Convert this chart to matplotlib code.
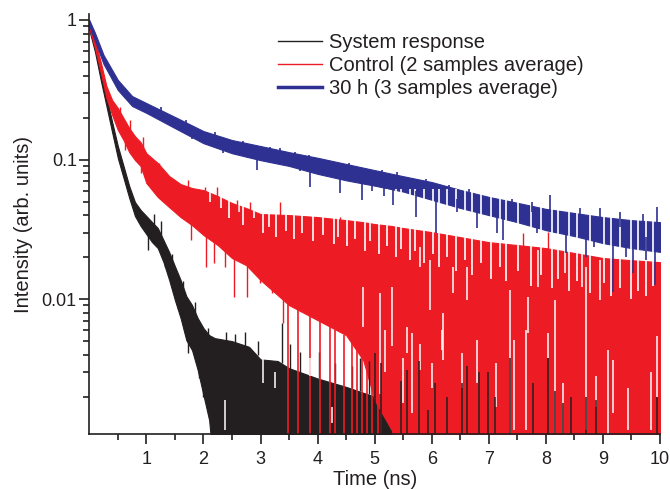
import numpy as np
import matplotlib.pyplot as plt
from matplotlib.lines import Line2D

plt.rcParams['font.family'] = ['Liberation Sans', 'DejaVu Sans']

# Colours of the three traces
c_black = '#231f20'
c_red = '#ed1c24'
c_blue = '#2e3192'
floor = 0.0005  # below the visible axis

# System response: dense band (upper / lower edge)
black_t = [0.0, 0.1, 0.2, 0.3, 0.4, 0.5, 0.6, 0.7, 0.8, 0.9, 1.0, 1.1, 1.2, 1.3, 1.4, 1.5,
           1.6, 1.7, 1.8, 1.9, 2.0, 2.1, 2.2, 2.5, 2.8, 3.0, 3.3, 3.5, 4.0, 4.5, 5.0, 5.5]
black_hi = [0.936, 0.673, 0.438, 0.285, 0.186, 0.125, 0.0898, 0.0645, 0.0496, 0.0435, 0.0394,
            0.0356, 0.0323, 0.0265, 0.0217, 0.0172, 0.0137, 0.0105, 0.00906, 0.00731, 0.0062,
            0.00552, 0.00525, 0.00500, 0.00455, 0.00370, 0.00360, 0.00320, 0.00270, 0.00235,
            0.00200, 0.00170]
black_lo = [0.848, 0.590, 0.372, 0.242, 0.157, 0.1025, 0.0737, 0.053, 0.0394, 0.0334, 0.0292,
            0.0256, 0.0232, 0.0184, 0.0137, 0.00984, 0.00731, 0.00508, 0.00431, 0.0031, 0.00205,
            0.00136, floor, floor, floor, floor, floor, floor, floor, floor, floor, floor]

# Control (2 samples average)
red_t = [0.0, 0.1, 0.2, 0.3, 0.4, 0.5, 0.6, 0.7, 0.8, 0.9, 1.0, 1.2, 1.4, 1.6, 1.8, 2.0, 2.25,
         2.5, 2.75, 3.0, 3.5, 4.0, 4.5, 4.8, 5.0, 5.3, 5.5, 6.0, 6.5, 7.0, 7.5, 8.0, 8.5, 9.0,
         9.5, 10.0]
red_hi = [0.968, 0.719, 0.500, 0.336, 0.267, 0.234, 0.198, 0.168, 0.147, 0.133, 0.111, 0.0944,
          0.0762, 0.0667, 0.0625, 0.0604, 0.0547, 0.0488, 0.0449, 0.0407, 0.0400, 0.0387,
          0.0368, 0.0356, 0.0345, 0.0334, 0.0323, 0.0302, 0.0278, 0.0256, 0.0244, 0.0232,
          0.0214, 0.0197, 0.0190, 0.0184]
red_lo = [0.876, 0.630, 0.424, 0.276, 0.209, 0.163, 0.138, 0.113, 0.0992, 0.0898, 0.0679,
          0.0539, 0.0456, 0.0387, 0.0339, 0.0288, 0.0244, 0.0197, 0.0175, 0.0137, 0.00906,
          0.00707, 0.00552, 0.00365, 0.00189, 0.00115, floor, floor, floor, floor, floor,
          floor, floor, floor, floor, floor]

# 30 h (3 samples average)
blue_t = [0.0, 0.1, 0.25, 0.5, 0.75, 1.0, 1.5, 2.0, 2.5, 3.0, 3.5, 4.0, 4.5, 5.0, 5.5, 6.0,
          6.5, 7.0, 7.5, 8.0, 8.5, 9.0, 9.5, 10.0]
blue_hi = [1.0, 0.807, 0.561, 0.372, 0.285, 0.254, 0.202, 0.160, 0.138, 0.125, 0.113, 0.103,
           0.093, 0.084, 0.076, 0.069, 0.0606, 0.054, 0.049, 0.0443, 0.0414, 0.0387, 0.0368,
           0.0356]
blue_lo = [0.906, 0.707, 0.484, 0.315, 0.242, 0.216, 0.168, 0.131, 0.111, 0.099, 0.090, 0.079,
           0.071, 0.065, 0.059, 0.0515, 0.045, 0.040, 0.0356, 0.0312, 0.0283, 0.0252, 0.0232,
           0.0218]

# Single noise spikes: time, start value, tip value
black_spike_t = [0.85, 1.03, 1.14, 1.25, 1.32, 1.45, 1.55, 1.65, 1.73, 1.85, 1.92, 1.99, 2.08,
                 2.40, 2.55, 2.72, 2.95, 3.37, 3.52, 3.70, 4.02, 4.30, 4.60, 4.75, 4.90]
black_spike_from = [0.045, 0.030, 0.033, 0.028, 0.022, 0.016, 0.012, 0.010, 0.006, 0.006, 0.0045,
                    0.004, 0.0035, 0.0045, 0.0045, 0.0045, 0.0040, 0.0035, 0.0030, 0.0030,
                    0.0027, 0.0025, 0.0023, 0.0022, 0.0021]
black_spike_to = [0.038, 0.0225, 0.041, 0.036, 0.017, 0.021, 0.0085, 0.0135, 0.0041, 0.0095,
                  0.0027, 0.0020, 0.0062, 0.0058, 0.0056, 0.0058, 0.0050, 0.0067, 0.0048, 0.0042,
                  0.0042, 0.0035, 0.0033, 0.0038, 0.0036]

red_spike_t = [0.53, 0.72, 0.94, 1.23, 1.73, 2.02, 2.23, 2.59, 2.82, 3.34, 3.81, 4.02, 4.40,
               0.62, 0.91, 1.26, 1.55, 1.79, 1.90, 2.05, 2.18, 2.38, 2.53, 2.76, 2.99, 3.20,
               3.40, 7.60, 8.04]
red_spike_from = [0.20, 0.14, 0.11, 0.075, 0.050, 0.045, 0.040, 0.035, 0.032, 0.025, 0.022,
                  0.020, 0.020, 0.19, 0.12, 0.075, 0.055, 0.048, 0.045, 0.040, 0.035, 0.030,
                  0.028, 0.025, 0.022, 0.020, 0.018, 0.020, 0.020]
red_spike_to = [0.238, 0.192, 0.145, 0.094, 0.071, 0.0636, 0.064, 0.051, 0.050, 0.050, 0.039,
                0.039, 0.039, 0.117, 0.080, 0.054, 0.0435, 0.0264, 0.035, 0.0170, 0.018, 0.017,
                0.0103, 0.0103, 0.013, 0.011, 0.0067, 0.0297, 0.0302]

# Control spikes reaching below the axis
red_drop_t = [3.48, 3.66, 3.86, 4.05, 4.21, 4.31, 4.46, 4.60, 4.69, 4.78, 4.87, 4.96, 5.05,
              5.12]
red_drop_from = [0.010, 0.009, 0.008, 0.0072, 0.0066, 0.006, 0.0055, 0.005, 0.0045, 0.004,
                 0.0036, 0.003, 0.0025, 0.0022]

# Notches in the ragged upper edge of Control (from above the trace down to these values)
notch_t = [2.12, 2.30, 2.45, 2.62, 2.70, 2.88, 3.05, 3.15, 3.28, 3.45, 3.58, 3.72, 3.92, 4.10,
           4.28, 4.35, 4.52, 4.66, 4.83, 4.92, 5.08, 5.22, 5.38, 5.46, 5.62, 5.71, 5.87, 6.03,
           6.12, 6.27, 6.42, 6.58, 6.70, 6.86, 7.03, 7.19, 7.31, 7.52, 7.74, 7.92, 8.10, 8.22,
           8.40, 8.55, 8.78, 9.02, 9.14, 9.30, 9.50, 9.62, 9.76, 9.88]
notch_bottom = [0.050, 0.045, 0.038, 0.042, 0.034, 0.038, 0.030, 0.033, 0.028, 0.031, 0.027,
                0.030, 0.026, 0.029, 0.025, 0.028, 0.024, 0.027, 0.022, 0.026, 0.021, 0.024,
                0.020, 0.023, 0.019, 0.022, 0.018, 0.021, 0.017, 0.020, 0.016, 0.019, 0.015,
                0.018, 0.014, 0.017, 0.0135, 0.016, 0.0125, 0.015, 0.012, 0.014, 0.0115,
                0.0135, 0.011, 0.013, 0.0105, 0.012, 0.010, 0.0115, 0.0105, 0.0125]
notch_top = 0.062

# White gaps in the noisy Control / System response area
gap_t = [2.38, 3.05, 3.25, 3.87, 4.25, 4.80, 5.09, 5.18, 5.30, 5.50, 5.56, 5.65, 5.79, 5.80,
         5.97, 6.00, 6.18, 6.20, 6.38, 6.53, 6.61, 6.80, 7.13, 7.37, 7.45, 7.66, 7.69, 7.87,
         8.04, 8.16, 8.30, 8.33, 8.63, 8.71, 8.87, 8.95, 9.09, 9.18, 9.44, 9.85, 9.94]
gap_top = [0.00189, 0.0038, 0.0030, 0.0038, 0.0017, 0.0122, 0.0111, 0.0060, 0.0122, 0.0038,
           0.0063, 0.0057, 0.0237, 0.0048, 0.0191, 0.0035, 0.0060, 0.0079, 0.0170, 0.0041,
           0.0170, 0.0051, 0.0035, 0.0116, 0.0051, 0.0060, 0.0103, 0.0225, 0.0057, 0.0098,
           0.0025, 0.0252, 0.0237, 0.0170, 0.0028, 0.0191, 0.0043, 0.00365, 0.0023, 0.0030,
           0.0054]
gap_bottom = [0.00115, 0.0025, 0.0023, 0.0028, 0.0013, 0.0063, 0.0021, 0.0030, 0.0046, 0.0018,
              0.0041, 0.00152, 0.0170, 0.0031, 0.0084, 0.0023, 0.0043, 0.00365, 0.0110, 0.0023,
              0.0098, 0.0025, 0.0017, floor, 0.00115, 0.00115, 0.0057, 0.0122, 0.0038, floor,
              floor, 0.0154, 0.0122, 0.00115, 0.0017, 0.0098, floor, 0.00152, 0.00115, 0.00115,
              0.0020]

# System response bars seen through the gaps after 5 ns
black_bar_t = [5.01, 5.12, 5.47, 5.56, 5.77, 5.94, 6.06, 6.26, 6.53, 6.61, 6.82, 6.99, 7.11,
               7.37, 7.78, 8.04, 8.16, 8.30, 8.44, 8.71, 8.87, 9.94]
black_bar_top = [0.0041, 0.0035, 0.0026, 0.0031, 0.0036, 0.0016, 0.0025, 0.0020, 0.0025,
                 0.0033, 0.0030, 0.0030, 0.0020, 0.0038, 0.0025, 0.0038, 0.0022, 0.0018, 0.0020,
                 0.0020, 0.0019, 0.0020]

blue_spike_t = [2.94, 3.87, 4.40, 4.78, 5.16, 5.32, 5.73, 6.08, 6.79, 7.14, 7.25, 8.36, 8.70,
                9.18, 9.53, 9.91, 3.17, 3.61, 4.16, 5.13, 8.07, 8.95, 9.94,
                1.25, 1.70, 2.20, 2.70, 3.35, 3.85, 4.55, 5.40, 5.90, 6.30, 6.65, 7.40, 7.75,
                8.60, 9.30, 9.70, 1.80, 2.35, 3.70, 4.95, 6.45, 7.85, 8.85, 9.40, 9.75]
blue_spike_from = [0.105, 0.090, 0.080, 0.074, 0.070, 0.066, 0.060, 0.055, 0.045, 0.040, 0.040,
                   0.030, 0.028, 0.025, 0.024, 0.022, 0.115, 0.105, 0.095, 0.080, 0.040, 0.036,
                   0.032,
                   0.21, 0.17, 0.14, 0.12, 0.105, 0.095, 0.085, 0.070, 0.062, 0.058, 0.052,
                   0.045, 0.042, 0.036, 0.033, 0.031, 0.16, 0.13, 0.100, 0.075, 0.052, 0.040,
                   0.033, 0.030, 0.028]
blue_spike_to = [0.084, 0.064, 0.0575, 0.0515, 0.055, 0.0472, 0.0387, 0.0297, 0.0323, 0.0297,
                 0.0264, 0.0214, 0.0200, 0.0112, 0.0154, 0.0126, 0.123, 0.113, 0.099, 0.084,
                 0.0558, 0.0449, 0.0457,
                 0.238, 0.192, 0.157, 0.136, 0.121, 0.108, 0.095, 0.081, 0.073, 0.066, 0.062,
                 0.052, 0.050, 0.045, 0.042, 0.041, 0.140, 0.112, 0.083, 0.060, 0.042, 0.030,
                 0.0235, 0.020, 0.019]

fig = plt.figure(figsize=(6.7, 4.9), dpi=100)
ax = fig.add_axes([89.3 / 670, 1 - 434 / 490, 570.7 / 670, 420 / 490])

# Traces, drawn in legend order
ax.fill_between(black_t, black_lo, black_hi, color=c_black, lw=0.8)
ax.vlines(black_spike_t, black_spike_from, black_spike_to, color=c_black, lw=1)

ax.fill_between(red_t, red_lo, red_hi, color=c_red, lw=0.8)
ax.vlines(notch_t, notch_bottom, notch_top, color='white', lw=1.2)
ax.vlines(red_spike_t, red_spike_from, red_spike_to, color=c_red, lw=1)
ax.vlines(red_drop_t, floor, red_drop_from, color=c_red, lw=1.2)

ax.vlines(gap_t, gap_bottom, gap_top, color='white', lw=1.1)
ax.vlines(black_bar_t, floor, black_bar_top, color=c_black, lw=1.1)

ax.fill_between(blue_t, blue_lo, blue_hi, color=c_blue, lw=0.8)
ax.vlines(blue_spike_t, blue_spike_from, blue_spike_to, color=c_blue, lw=1.2)

ax.set_yscale('log')
ax.set_xlim(0, 10)
ax.set_ylim(0.00108, 1.104)

ax.set_xticks(range(1, 11))
ax.set_xticks(np.arange(0.5, 10, 1.0), minor=True)
ax.set_yticks([0.01, 0.1, 1])
ax.set_yticklabels(['0.01', '0.1', '1'])

for side in ['top', 'right']:
    ax.spines[side].set_visible(False)
for side in ['left', 'bottom']:
    ax.spines[side].set_color(c_black)
    ax.spines[side].set_linewidth(1.2)

ax.tick_params(which='major', direction='out', length=7, width=1.2, color=c_black,
               labelsize=13, labelcolor=c_black)
ax.tick_params(which='minor', direction='out', length=4, width=1.2, color=c_black)
ax.tick_params(axis='y', which='both', pad=2)
ax.tick_params(axis='x', which='major', pad=5)

ax.set_xlabel('Time (ns)', fontsize=14.5, color=c_black, labelpad=2)
ax.set_ylabel('Intensity (arb. units)', fontsize=14.5, color=c_black, labelpad=6)

handles = [Line2D([], [], color=c_black, lw=1),
           Line2D([], [], color=c_red, lw=1),
           Line2D([], [], color=c_blue, lw=2.5)]
labels = ['System response', 'Control (2 samples average)', '30 h (3 samples average)']
ax.legend(handles, labels, loc='upper left', bbox_to_anchor=(0.33, 0.955), frameon=False,
          fontsize=14.5, handlelength=2.2, handletextpad=0.35, labelspacing=0.2,
          borderpad=0, borderaxespad=0, labelcolor=c_black)

fig.savefig('out.png', dpi=100)
